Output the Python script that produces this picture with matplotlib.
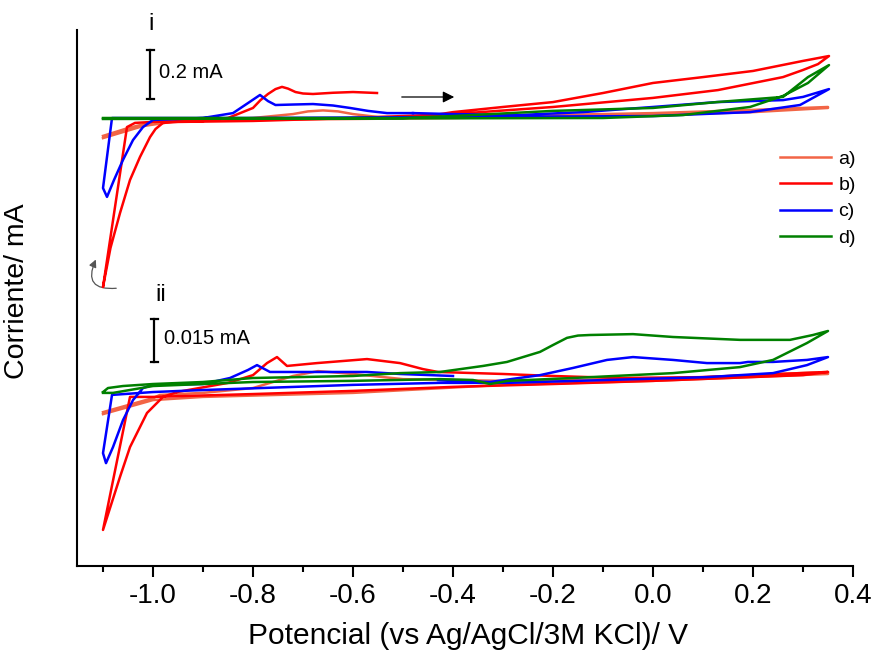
import numpy as np
import matplotlib
matplotlib.use("Agg")
import matplotlib.pyplot as plt
from matplotlib.patches import FancyArrowPatch
from matplotlib.lines import Line2D

# ---------------- data (potential in V, current in mA) ----------------
labels = ["a)", "b)", "c)", "d)"]
colors = ["#f26546", "#ff0000", "#0000ff", "#008000"]

# panel i (top)
E_a_i = [-1.10, -1.05, -1.00, -0.90, -0.80, -0.72, -0.69, -0.66, -0.63, -0.60, -0.55, -0.40, -0.20, 0.00, 0.20, 0.35,
         0.35, 0.20, 0.00, -0.40, -0.80, -0.95, -1.02, -1.10]
I_a_i = [-0.073, -0.041, -0.016, -0.008, 0.000, 0.016, 0.027, 0.031, 0.027, 0.016, 0.004, 0.004, 0.012, 0.020, 0.033, 0.045,
         0.041, 0.024, 0.012, 0.000, -0.008, -0.012, -0.033, -0.082]

E_b_i = [-0.52, -0.45, -0.40, -0.30, -0.20, -0.10, 0.00, 0.10, 0.20, 0.30, 0.352,
         0.33, 0.30, 0.26, 0.13, 0.00, -0.20, -0.40, -0.60, -0.80, -0.95, -0.98, -0.995, -1.006, -1.026, -1.046,
         -1.066, -1.085, -1.10,
         -1.052, -1.036, -1.00, -0.90, -0.85, -0.80, -0.785, -0.77, -0.755, -0.742, -0.73, -0.715, -0.70, -0.68,
         -0.64, -0.60, -0.552]
I_b_i = [0.000, 0.008, 0.024, 0.045, 0.065, 0.102, 0.143, 0.167, 0.192, 0.233, 0.253,
         0.220, 0.196, 0.167, 0.114, 0.082, 0.045, 0.016, 0.000, -0.012, -0.016, -0.020, -0.045, -0.078, -0.159,
         -0.253, -0.388, -0.530, -0.690,
         -0.037, -0.020, -0.016, -0.012, 0.000, 0.041, 0.073, 0.098, 0.118, 0.127, 0.120, 0.106, 0.100, 0.098,
         0.103, 0.106, 0.102]

E_c_i = [-0.48, -0.40, -0.27, -0.14, 0.00, 0.128, 0.26, 0.30, 0.352,
         0.294, 0.194, 0.00, -0.41, -0.80, -1.00, -1.082, -1.10, -1.092, -1.078, -1.06, -1.04, -1.02, -1.00,
         -0.90, -0.84, -0.81, -0.786, -0.77, -0.755, -0.72, -0.68, -0.64, -0.606, -0.57, -0.532, -0.48]
I_c_i = [0.020, 0.016, 0.012, 0.024, 0.045, 0.065, 0.073, 0.086, 0.118,
         0.053, 0.024, 0.008, 0.004, 0.000, 0.000, 0.000, -0.286, -0.322, -0.253, -0.171, -0.090, -0.037, -0.008,
         0.000, 0.020, 0.061, 0.094, 0.069, 0.053, 0.055, 0.057, 0.051, 0.041, 0.029, 0.020, 0.020]

E_d_i = [-1.10, -0.50, -0.40, -0.20, 0.00, 0.128, 0.26, 0.31, 0.352,
         0.31, 0.26, 0.194, 0.06, -0.10, -1.10]
I_d_i = [0.000, 0.000, 0.008, 0.029, 0.041, 0.065, 0.086, 0.167, 0.216,
         0.143, 0.090, 0.045, 0.012, 0.000, -0.004]

# panel ii (bottom)
E_a_ii = [-1.10, -1.00, -0.986, -0.90, -0.80, -0.72, -0.67, -0.60, -0.50, -0.30, 0.00, 0.35,
          0.35, 0.00, -0.30, -0.60, -0.90, -1.00, -1.10]
I_a_ii = [-0.0112, -0.0063, -0.0052, -0.0045, -0.0028, 0.0014, 0.0031, 0.0021, 0.0003, -0.0003, 0.0003, 0.0028,
          0.0021, -0.0003, -0.0017, -0.0045, -0.0059, -0.0070, -0.0119]

E_b_ii = [-0.952, -0.85, -0.80, -0.772, -0.752, -0.732, -0.672, -0.572, -0.506, -0.46, -0.43, -0.30, -0.20, -0.07,
          0.10, 0.35,
          0.30, 0.00, -0.20, -0.40, -0.60, -0.80, -1.00, -1.046, -1.10,
          -1.066, -1.046, -1.012, -0.98, -0.952]
I_b_ii = [-0.0042, -0.0010, 0.0017, 0.0059, 0.0080, 0.0049, 0.0059, 0.0073, 0.0059, 0.0038, 0.0028, 0.0021, 0.0014,
          0.0007, 0.0010, 0.0028,
          0.0017, -0.0003, -0.0014, -0.0024, -0.0038, -0.0049, -0.0059, -0.0059, -0.0523,
          -0.0338, -0.0234, -0.0115, -0.0059, -0.0042]

E_c_ii = [-0.43, -0.326, -0.226, -0.16, -0.092, -0.04, 0.04, 0.108, 0.174, 0.19, 0.24, 0.308, 0.35,
          0.308, 0.24, 0.108, -0.092, -0.292, -0.426, -0.60, -0.90, -1.00, -1.082, -1.10, -1.094, -1.08, -1.06,
          -1.04, -1.02, -1.00, -0.90, -0.846, -0.81, -0.792, -0.766, -0.672, -0.572, -0.506, -0.40]
I_c_ii = [0.0000, -0.0007, 0.0017, 0.0042, 0.0070, 0.0080, 0.0070, 0.0059, 0.0059, 0.0063, 0.0063, 0.0070, 0.0080,
          0.0052, 0.0024, 0.0010, 0.0000, -0.0010, -0.0010, -0.0017, -0.0035, -0.0042, -0.0052, -0.0255, -0.0290,
          -0.0234, -0.0140, -0.0070, -0.0028, -0.0017, -0.0014, 0.0007, 0.0035, 0.0052, 0.0028, 0.0028, 0.0028,
          0.0021, 0.0014]

E_d_ii = [-1.10, -1.09, -1.06, -1.00, -0.90, -0.80, -0.60, -0.506, -0.426, -0.34, -0.292, -0.226, -0.20, -0.172,
          -0.15, -0.126, -0.04, 0.04, 0.174, 0.274, 0.32, 0.35,
          0.308, 0.24, 0.174, 0.04, -0.16, -0.29, -0.326, -0.36, -0.426, -0.60, -0.80, -1.00, -1.08, -1.10]
I_d_ii = [-0.0042, -0.0028, -0.0021, -0.0014, -0.0007, 0.0007, 0.0014, 0.0024, 0.0028, 0.0049, 0.0063, 0.0098,
          0.0122, 0.0147, 0.0155, 0.0157, 0.0160, 0.0150, 0.0140, 0.0140, 0.0157, 0.0171,
          0.0129, 0.0070, 0.0045, 0.0024, 0.0007, -0.0003, -0.0014, 0.0000, 0.0003, -0.0003, -0.0007, -0.0021,
          -0.0045, -0.0045]

scale_i = 0.2      # mA, scale bar panel i
scale_ii = 0.015   # mA, scale bar panel ii

xticks_major = [-1.0, -0.8, -0.6, -0.4, -0.2, 0.0, 0.2, 0.4]
xtick_labels = ["-1.0", "-0.8", "-0.6", "-0.4", "-0.2", "0.0", "0.2", "0.4"]

# ---------------- layout (stacked offsets) ----------------
OFF_I, GAIN_I = 448.0, 245.0
OFF_II, GAIN_II = 186.0, 2867.0
YMAX = 536.0

def yi(I):
    return np.asarray(I, float) * GAIN_I + OFF_I

def yii(I):
    return np.asarray(I, float) * GAIN_II + OFF_II

plt.rcParams['font.family'] = ['Liberation Sans', 'DejaVu Sans']

fig = plt.figure(figsize=(8.76, 6.52), dpi=100)
ax = fig.add_axes([77 / 876, 86 / 652, 776 / 876, 536 / 652])

lw = 1.8
top_sets = [(E_a_i, I_a_i), (E_b_i, I_b_i), (E_c_i, I_c_i), (E_d_i, I_d_i)]
bot_sets = [(E_a_ii, I_a_ii), (E_b_ii, I_b_ii), (E_c_ii, I_c_ii), (E_d_ii, I_d_ii)]
for (E, I), c in zip(top_sets, colors):
    ax.plot(E, yi(I), color=c, lw=lw, solid_joinstyle='round')
for (E, I), c in zip(bot_sets, colors):
    ax.plot(E, yii(I), color=c, lw=lw, solid_joinstyle='round')

ax.set_xlim(-1.152, 0.4)
ax.set_ylim(0, YMAX)

for s in ['top', 'right']:
    ax.spines[s].set_visible(False)
for s in ['left', 'bottom']:
    ax.spines[s].set_linewidth(1.5)

ax.set_yticks([])
ax.set_xticks(xticks_major)
ax.set_xticklabels(xtick_labels)
ax.set_xticks(np.arange(-1.1, 0.41, 0.2), minor=True)
ax.tick_params(axis='x', which='major', direction='out', length=8, width=1.5, labelsize=20, pad=4)
ax.tick_params(axis='x', which='minor', direction='out', length=4.5, width=1.5)

ax.set_xlabel("Potencial (vs Ag/AgCl/3M KCl)/ V", fontsize=21.5)
ax.xaxis.set_label_coords(0.504, -0.105)
ax.set_ylabel("Corriente/ mA", fontsize=20.5)
ax.yaxis.set_label_coords(-0.06, 0.513)

def px(x, y):
    return ((x - 653) / 500.0, 566.0 - y)

# scale bars
for xb, ybot, length in [(px(150, 0)[0], yi(0) + 19, scale_i * GAIN_I),
                         (px(154, 0)[0], yii(0) + 18, scale_ii * GAIN_II)]:
    ax.plot([xb, xb], [ybot, ybot + length], color='black', lw=1.6, clip_on=False)
    ax.plot([xb - 0.007, xb + 0.007], [ybot, ybot], color='black', lw=1.6)
    ax.plot([xb - 0.007, xb + 0.007], [ybot + length] * 2, color='black', lw=1.6)

ax.text(*px(159, 73), "0.2 mA", fontsize=14.5, va='center', ha='left')
ax.text(*px(164, 339), "0.015 mA", fontsize=14.5, va='center', ha='left')
ax.text(*px(151, 24), "i", fontsize=17, va='center', ha='center', clip_on=False)
ax.text(*px(161, 295), "ii", fontsize=17, va='center', ha='center')

# scan direction arrow
ax.annotate("", xy=px(457, 97), xytext=px(399, 97),
            arrowprops=dict(arrowstyle='-|>', color='black', lw=0.9, mutation_scale=17))
# curved reversal arrow
arr = FancyArrowPatch(px(119, 288), px(97, 257), connectionstyle="arc3,rad=-0.9",
                      arrowstyle='-|>', mutation_scale=11, color='#555555', lw=0.9)
ax.add_patch(arr)

handles = [Line2D([], [], color=c, lw=lw) for c in colors]
fig.legend(handles, labels, loc='upper left', bbox_to_anchor=(780 / 876, 1 - 150 / 652),
           frameon=False, fontsize=14, handlelength=2.6, handletextpad=0.4, labelspacing=0.45,
           borderpad=0, borderaxespad=0)

fig.savefig("out.png", dpi=100)
